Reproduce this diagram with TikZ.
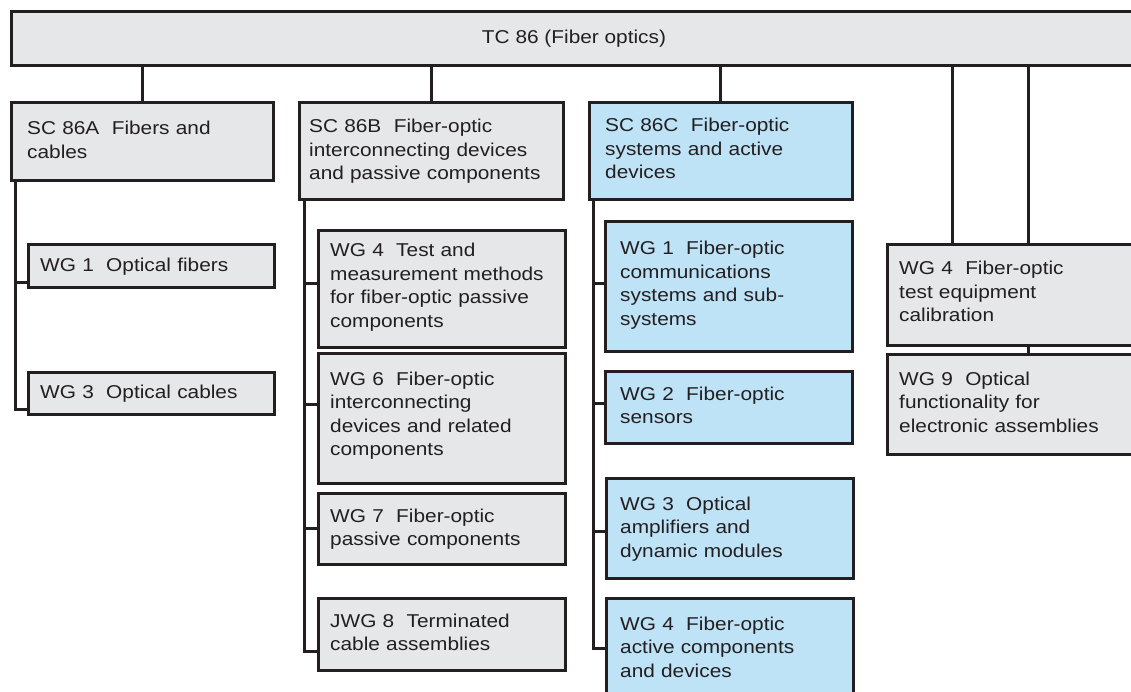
\documentclass[tikz,border=0pt]{standalone}
\usepackage{fontspec}
\setmainfont{Liberation Sans}[FakeStretch=1.12]
\definecolor{ink}{HTML}{231F20}
\definecolor{boxgray}{HTML}{E6E7E8}
\definecolor{boxblue}{HTML}{BEE3F7}
\begin{document}
\begin{tikzpicture}[x=1pt,y=-1pt,
  box/.style={draw=ink, line width=2.8pt, rectangle, inner sep=0pt, anchor=north west},
  gbox/.style={box, fill=boxgray},
  bbox/.style={box, fill=boxblue},
  txt/.style={anchor=base west, inner sep=0pt, text=ink, font=\fontsize{18.6}{23.5}\selectfont, align=left, text width=300pt},
  title/.style={anchor=base, inner sep=0pt, text=ink, font=\fontsize{18.6}{23.5}\selectfont},
  conn/.style={draw=ink, line width=3pt}]
\clip (0,0) rectangle (1131,692);
\fill[white] (0,0) rectangle (1131,692);
% boxes
\node[gbox, minimum width=1135pt, minimum height=54pt] (tc) at (10,10) {};
\node[gbox, minimum width=262pt, minimum height=78pt] (sca) at (10,101) {};
\node[gbox, minimum width=264pt, minimum height=97pt] (scb) at (298,101) {};
\node[bbox, minimum width=263pt, minimum height=97pt] (scc) at (588,101) {};
\node[gbox, minimum width=246pt, minimum height=43pt] (a1) at (27,243) {};
\node[gbox, minimum width=246pt, minimum height=42pt] (a3) at (27,371) {};
\node[gbox, minimum width=247pt, minimum height=117pt] (b4) at (317,229) {};
\node[gbox, minimum width=247pt, minimum height=130pt] (b6) at (317,352) {};
\node[gbox, minimum width=247pt, minimum height=71pt] (b7) at (317,492) {};
\node[gbox, minimum width=247pt, minimum height=72pt] (b8) at (317,597) {};
\node[bbox, minimum width=247pt, minimum height=130pt] (c1) at (604,220) {};
\node[bbox, minimum width=247pt, minimum height=72pt] (c2) at (604,370) {};
\node[bbox, minimum width=247pt, minimum height=100pt] (c3) at (605,477) {};
\node[bbox, minimum width=247pt, minimum height=110pt] (c4) at (605,597) {};
\node[gbox, minimum width=260pt, minimum height=101pt] (d4) at (886,243) {};
\node[gbox, minimum width=260pt, minimum height=100pt] (d9) at (886,353) {};
% texts
\node[title] (tct) at (574,44) {TC 86 (Fiber optics)};
\node[txt] (scat) at (27,135) {SC 86A~ Fibers and\\cables};
\node[txt] (scbt) at (309,133) {SC 86B~ Fiber-optic\\interconnecting devices\\and passive components};
\node[txt] (scct) at (605,132) {SC 86C~ Fiber-optic\\systems and active\\devices};
\node[txt] (a1t) at (40,272) {WG 1~ Optical fibers};
\node[txt] (a3t) at (40,398) {WG 3~ Optical cables};
\node[txt] (b4t) at (330,257) {WG 4~ Test and\\measurement methods\\for fiber-optic passive\\components};
\node[txt] (b6t) at (330,385) {WG 6~ Fiber-optic\\interconnecting\\devices and related\\components};
\node[txt] (b7t) at (330,522) {WG 7~ Fiber-optic\\passive components};
\node[txt] (b8t) at (330,627) {JWG 8~ Terminated\\cable assemblies};
\node[txt] (c1t) at (620,255) {WG 1~ Fiber-optic\\communications\\systems and sub-\\systems};
\node[txt] (c2t) at (620,400) {WG 2~ Fiber-optic\\sensors};
\node[txt] (c3t) at (620,510) {WG 3~ Optical\\amplifiers and\\dynamic modules};
\node[txt] (c4t) at (620,630) {WG 4~ Fiber-optic\\active components\\and devices};
\node[txt] (d4t) at (899,275) {WG 4~ Fiber-optic\\test equipment\\calibration};
\node[txt] (d9t) at (899,385) {WG 9~ Optical\\functionality for\\electronic assemblies};
% connectors from TC
\draw[conn] (sca.north |- tc.south) -- (sca.north);
\draw[conn] (scb.north |- tc.south) -- (scb.north);
\draw[conn] (scc.north |- tc.south) -- (scc.north);
\draw[conn] ([xshift=66pt]d4.north west |- tc.south) -- ([xshift=66pt]d4.north west);
\draw[conn] ([xshift=142pt]d4.north west |- tc.south) -- ([xshift=142pt]d4.north west);
\draw[conn] ([xshift=142pt]d4.south west) -- ([xshift=142pt]d9.north west);
% SC 86A branch
\draw[conn] ([xshift=5pt]sca.south west) |- ([yshift=6pt]a1.south west);
\draw[conn] ([xshift=5pt]sca.south west) |- ([yshift=6pt]a3.south west);
% SC 86B branch
\draw[conn] ([xshift=6pt]scb.south west) |- ([yshift=5.5pt]b4.west);
\draw[conn] ([xshift=6pt]scb.south west) |- ([yshift=14pt]b6.west);
\draw[conn] ([xshift=6pt]scb.south west) |- (b7.west);
\draw[conn] ([xshift=6pt]scb.south west) |- ([yshift=20pt]b8.south west);
% SC 86C branch
\draw[conn] ([xshift=5pt]scc.south west) |- ([yshift=3pt]c1.west);
\draw[conn] ([xshift=5pt]scc.south west) |- ([yshift=4pt]c2.west);
\draw[conn] ([xshift=5pt]scc.south west) |- ([yshift=-3pt]c3.west);
\draw[conn] ([xshift=5pt]scc.south west) |- ([yshift=-51pt]c4.north west);
\end{tikzpicture}
\end{document}
